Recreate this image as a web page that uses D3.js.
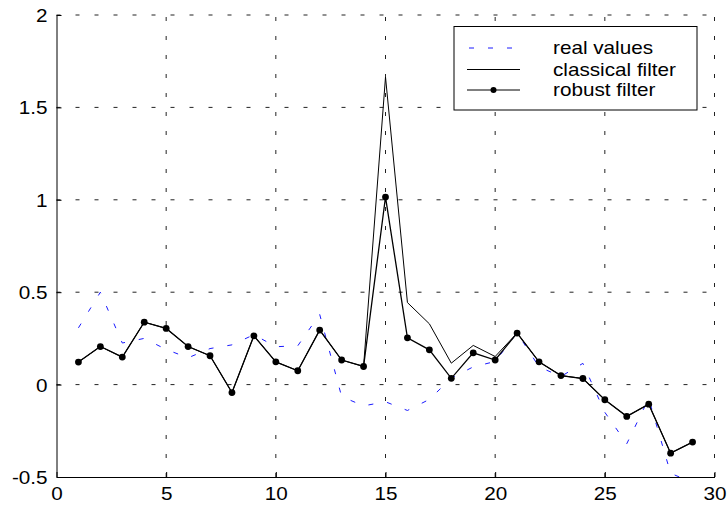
<!DOCTYPE html>
<html>
<head>
<meta charset="utf-8">
<script src="https://cdn.jsdelivr.net/npm/d3@7"></script>
<style>
  html, body { margin: 0; padding: 0; background: #fff; }
  svg { display: block; }
  text { font-family: "Liberation Sans", Arial, Helvetica, sans-serif; fill: #000; }
</style>
</head>
<body>
<svg id="chart" width="727" height="508"></svg>
<script>
// Time steps 1..29
const steps = d3.range(1, 30);

// True signal
const realValues = [0.307, 0.50, 0.225, 0.25, 0.19, 0.145, 0.195, 0.215, 0.27, 0.205,
  0.21, 0.38, -0.065, -0.115, -0.093, -0.14, -0.08, 0.035, 0.096, 0.125,
  0.28, 0.096, 0.044, 0.115, -0.15, -0.32, -0.075, -0.48, -0.53];

// Classical (non-robust) filter estimate
const classicalFilter = [0.122, 0.206, 0.149, 0.338, 0.304, 0.206, 0.156, -0.043, 0.264, 0.123,
  0.075, 0.295, 0.133, 0.098, 1.664, 0.444, 0.329, 0.116, 0.212, 0.152,
  0.279, 0.123, 0.049, 0.033, -0.082, -0.172, -0.106, -0.371, -0.311];

// Robust filter estimate
const robustFilter = [0.122, 0.206, 0.149, 0.338, 0.304, 0.206, 0.156, -0.043, 0.264, 0.123,
  0.075, 0.295, 0.133, 0.098, 1.015, 0.253, 0.188, 0.034, 0.172, 0.133,
  0.279, 0.123, 0.049, 0.033, -0.082, -0.172, -0.106, -0.371, -0.311];

const xTicks = [0, 5, 10, 15, 20, 25, 30];
const yTicks = [-0.5, 0, 0.5, 1, 1.5, 2];
const legendLabels = ["real values", "classical filter", "robust filter"];

const svg = d3.select("#chart");
const plotLeft = 56.5, plotRight = 714.5, plotTop = 15, plotBottom = 477;
const fontSize = 18, stretch = 1.15;   // slightly widened Helvetica-style lettering

const x = d3.scaleLinear().domain([0, 30]).range([plotLeft, plotRight]);
const y = d3.scaleLinear().domain([-0.5, 2]).range([plotBottom, plotTop]);

// Grid
const grid = svg.append("g").attr("stroke", "#222").attr("stroke-width", 1)
  .attr("stroke-dasharray", "4,15").attr("fill", "none");
xTicks.filter(t => t > 0).forEach(t => {
  grid.append("line").attr("x1", x(t)).attr("x2", x(t)).attr("y1", plotBottom).attr("y2", plotTop);
});
yTicks.filter(t => t > -0.5).forEach(t => {
  grid.append("line").attr("x1", plotLeft).attr("x2", plotRight).attr("y1", y(t)).attr("y2", y(t));
});

// Axes
const xAxis = d3.axisBottom(x).tickValues(xTicks).tickSizeInner(-5).tickSizeOuter(0)
  .tickPadding(10).tickFormat(d => String(d));
const gx = svg.append("g").attr("transform", `translate(0,${plotBottom})`).call(xAxis);
const yAxis = d3.axisLeft(y).tickValues(yTicks).tickSizeInner(-5).tickSizeOuter(0)
  .tickPadding(9).tickFormat(d => String(d));
const gy = svg.append("g").attr("transform", `translate(${plotLeft},0)`).call(yAxis);
[gx, gy].forEach(g => {
  g.select(".domain").attr("stroke", "#000").attr("stroke-width", 1);
  g.selectAll(".tick line").attr("stroke", "#000");
  g.selectAll(".tick text").attr("font-size", fontSize)
    .attr("font-family", "'Liberation Sans', Arial, sans-serif");
});
gx.selectAll(".tick text").attr("dy", "0.72em").attr("transform", `scale(${stretch},1)`);
gy.selectAll(".tick text").attr("dy", "0.36em")
  .attr("x", -9 / stretch).attr("transform", `scale(${stretch},1)`);

// Plot area clip
svg.append("defs").append("clipPath").attr("id", "plotClip")
  .append("rect").attr("x", plotLeft).attr("y", plotTop)
  .attr("width", plotRight - plotLeft).attr("height", plotBottom - plotTop);

const line = vals => d3.line().x((d, i) => x(steps[i])).y(d => y(d))(vals);
const plot = svg.append("g").attr("clip-path", "url(#plotClip)");

plot.append("path").attr("d", line(realValues)).attr("fill", "none")
  .attr("stroke", "#1a1aff").attr("stroke-width", 1).attr("stroke-dasharray", "5,14");
plot.append("path").attr("d", line(classicalFilter)).attr("fill", "none")
  .attr("stroke", "#000").attr("stroke-width", 1);
plot.append("path").attr("d", line(robustFilter)).attr("fill", "none")
  .attr("stroke", "#000").attr("stroke-width", 1.3);
plot.selectAll("circle.robust").data(robustFilter).enter().append("circle")
  .attr("class", "robust")
  .attr("cx", (d, i) => x(steps[i])).attr("cy", d => y(d)).attr("r", 3.4).attr("fill", "#000");

// Legend
const lg = svg.append("g");
lg.append("rect").attr("x", 454).attr("y", 26.5).attr("width", 243).attr("height", 83.5)
  .attr("fill", "#fff").attr("stroke", "#000").attr("stroke-width", 1);
const rowY = [48, 69.5, 90];
const sx1 = 467, sx2 = 520;
lg.append("line").attr("x1", sx1).attr("x2", sx2).attr("y1", rowY[0]).attr("y2", rowY[0])
  .attr("stroke", "#1a1aff").attr("stroke-dasharray", "5,14").attr("stroke-dashoffset", -2);
lg.append("line").attr("x1", sx1).attr("x2", sx2).attr("y1", rowY[1]).attr("y2", rowY[1])
  .attr("stroke", "#000");
lg.append("line").attr("x1", sx1).attr("x2", sx2).attr("y1", rowY[2]).attr("y2", rowY[2])
  .attr("stroke", "#000");
lg.append("circle").attr("cx", (sx1 + sx2) / 2).attr("cy", rowY[2]).attr("r", 3).attr("fill", "#000");
legendLabels.forEach((t, i) => {
  lg.append("text").attr("transform", `translate(553,${rowY[i]}) scale(${stretch},1)`)
    .attr("dy", "0.36em").attr("font-size", fontSize).text(t);
});
</script>
</body>
</html>
